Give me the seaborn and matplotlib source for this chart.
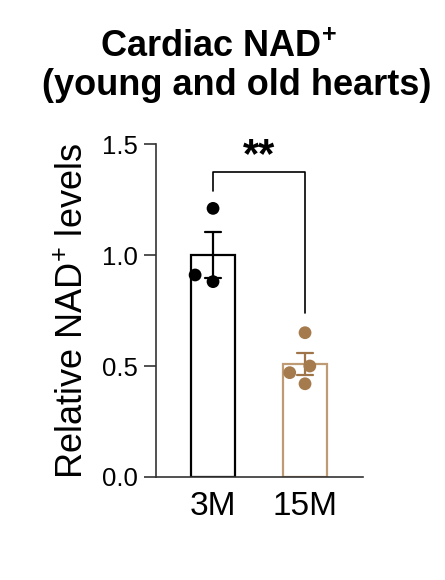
import numpy as np
import pandas as pd
import matplotlib
matplotlib.use("Agg")
import matplotlib.pyplot as plt
import seaborn as sns

# values
ages = ["3M", "15M"]
young = [1.21, 0.88, 0.91]
old = [0.65, 0.50, 0.47, 0.42]

df = pd.DataFrame({
    "age": ["3M"] * len(young) + ["15M"] * len(old),
    "value": young + old,
})

sns.set_style("ticks")
plt.rcParams['font.family'] = ['Liberation Sans', 'DejaVu Sans']
plt.rcParams['mathtext.fontset'] = 'custom'
plt.rcParams['mathtext.rm'] = 'Liberation Sans'
plt.rcParams['mathtext.bf'] = 'Liberation Sans:bold'
plt.rcParams['text.color'] = 'black'
plt.rcParams['axes.labelcolor'] = 'black'
plt.rcParams['xtick.color'] = 'black'
plt.rcParams['ytick.color'] = 'black'

edge_cols = {"3M": "black", "15M": "#BE9B74"}
dot_cols = {"3M": "black", "15M": "#A57A4C"}
err_cols = {"3M": "black", "15M": "#9E7448"}

fig = plt.figure(figsize=(4.45, 5.8), dpi=100)
ax = fig.add_axes([156 / 445, 103 / 580, 207 / 445, 333 / 580])

for g in ages:
    sub = df[df["age"] == g]
    sns.barplot(data=sub, x="age", y="value", order=ages, ax=ax,
                errorbar="se", capsize=0.17, width=0.48, fill=False,
                color=edge_cols[g], linewidth=1.6,
                err_kws={"color": err_cols[g], "linewidth": 1.6})
    sns.swarmplot(data=sub, x="age", y="value", order=ages, ax=ax,
                  color=dot_cols[g], size=9.2, linewidth=4, edgecolor="none",
                  zorder=3)

# significance bracket
ax.plot([0, 0, 1, 1], [1.29, 1.374, 1.374, 0.74], color="black", lw=1.2,
        clip_on=False)
ax.text(0.5, 1.355, "**", ha="center", va="bottom", fontsize=30,
        fontweight="bold")

ax.set_xlim(-0.62, 1.63)
ax.set_ylim(0, 1.5)
ax.set_yticks([0, 0.5, 1.0, 1.5])
ax.set_yticklabels(["0.0", "0.5", "1.0", "1.5"])
ax.set_xlabel("")
ax.set_ylabel(r"Relative NAD$^{+}$ levels", fontsize=26, labelpad=8)
ax.tick_params(axis="y", labelsize=18.5, length=9, width=1.2, pad=4,
               color="#333333")
ax.tick_params(axis="x", labelsize=24, length=0, pad=10)
for s in ["left", "bottom"]:
    ax.spines[s].set_linewidth(1.2)
    ax.spines[s].set_color("#333333")
sns.despine(ax=ax)

fig.text(0.49, 0.902, r"Cardiac NAD$^{\mathbf{+}}$", ha="center",
         va="baseline", fontsize=26, fontweight="bold")
fig.text(0.533, 0.836, "(young and old hearts)", ha="center",
         va="baseline", fontsize=26, fontweight="bold")

fig.savefig("out.png", dpi=100, facecolor="white")
